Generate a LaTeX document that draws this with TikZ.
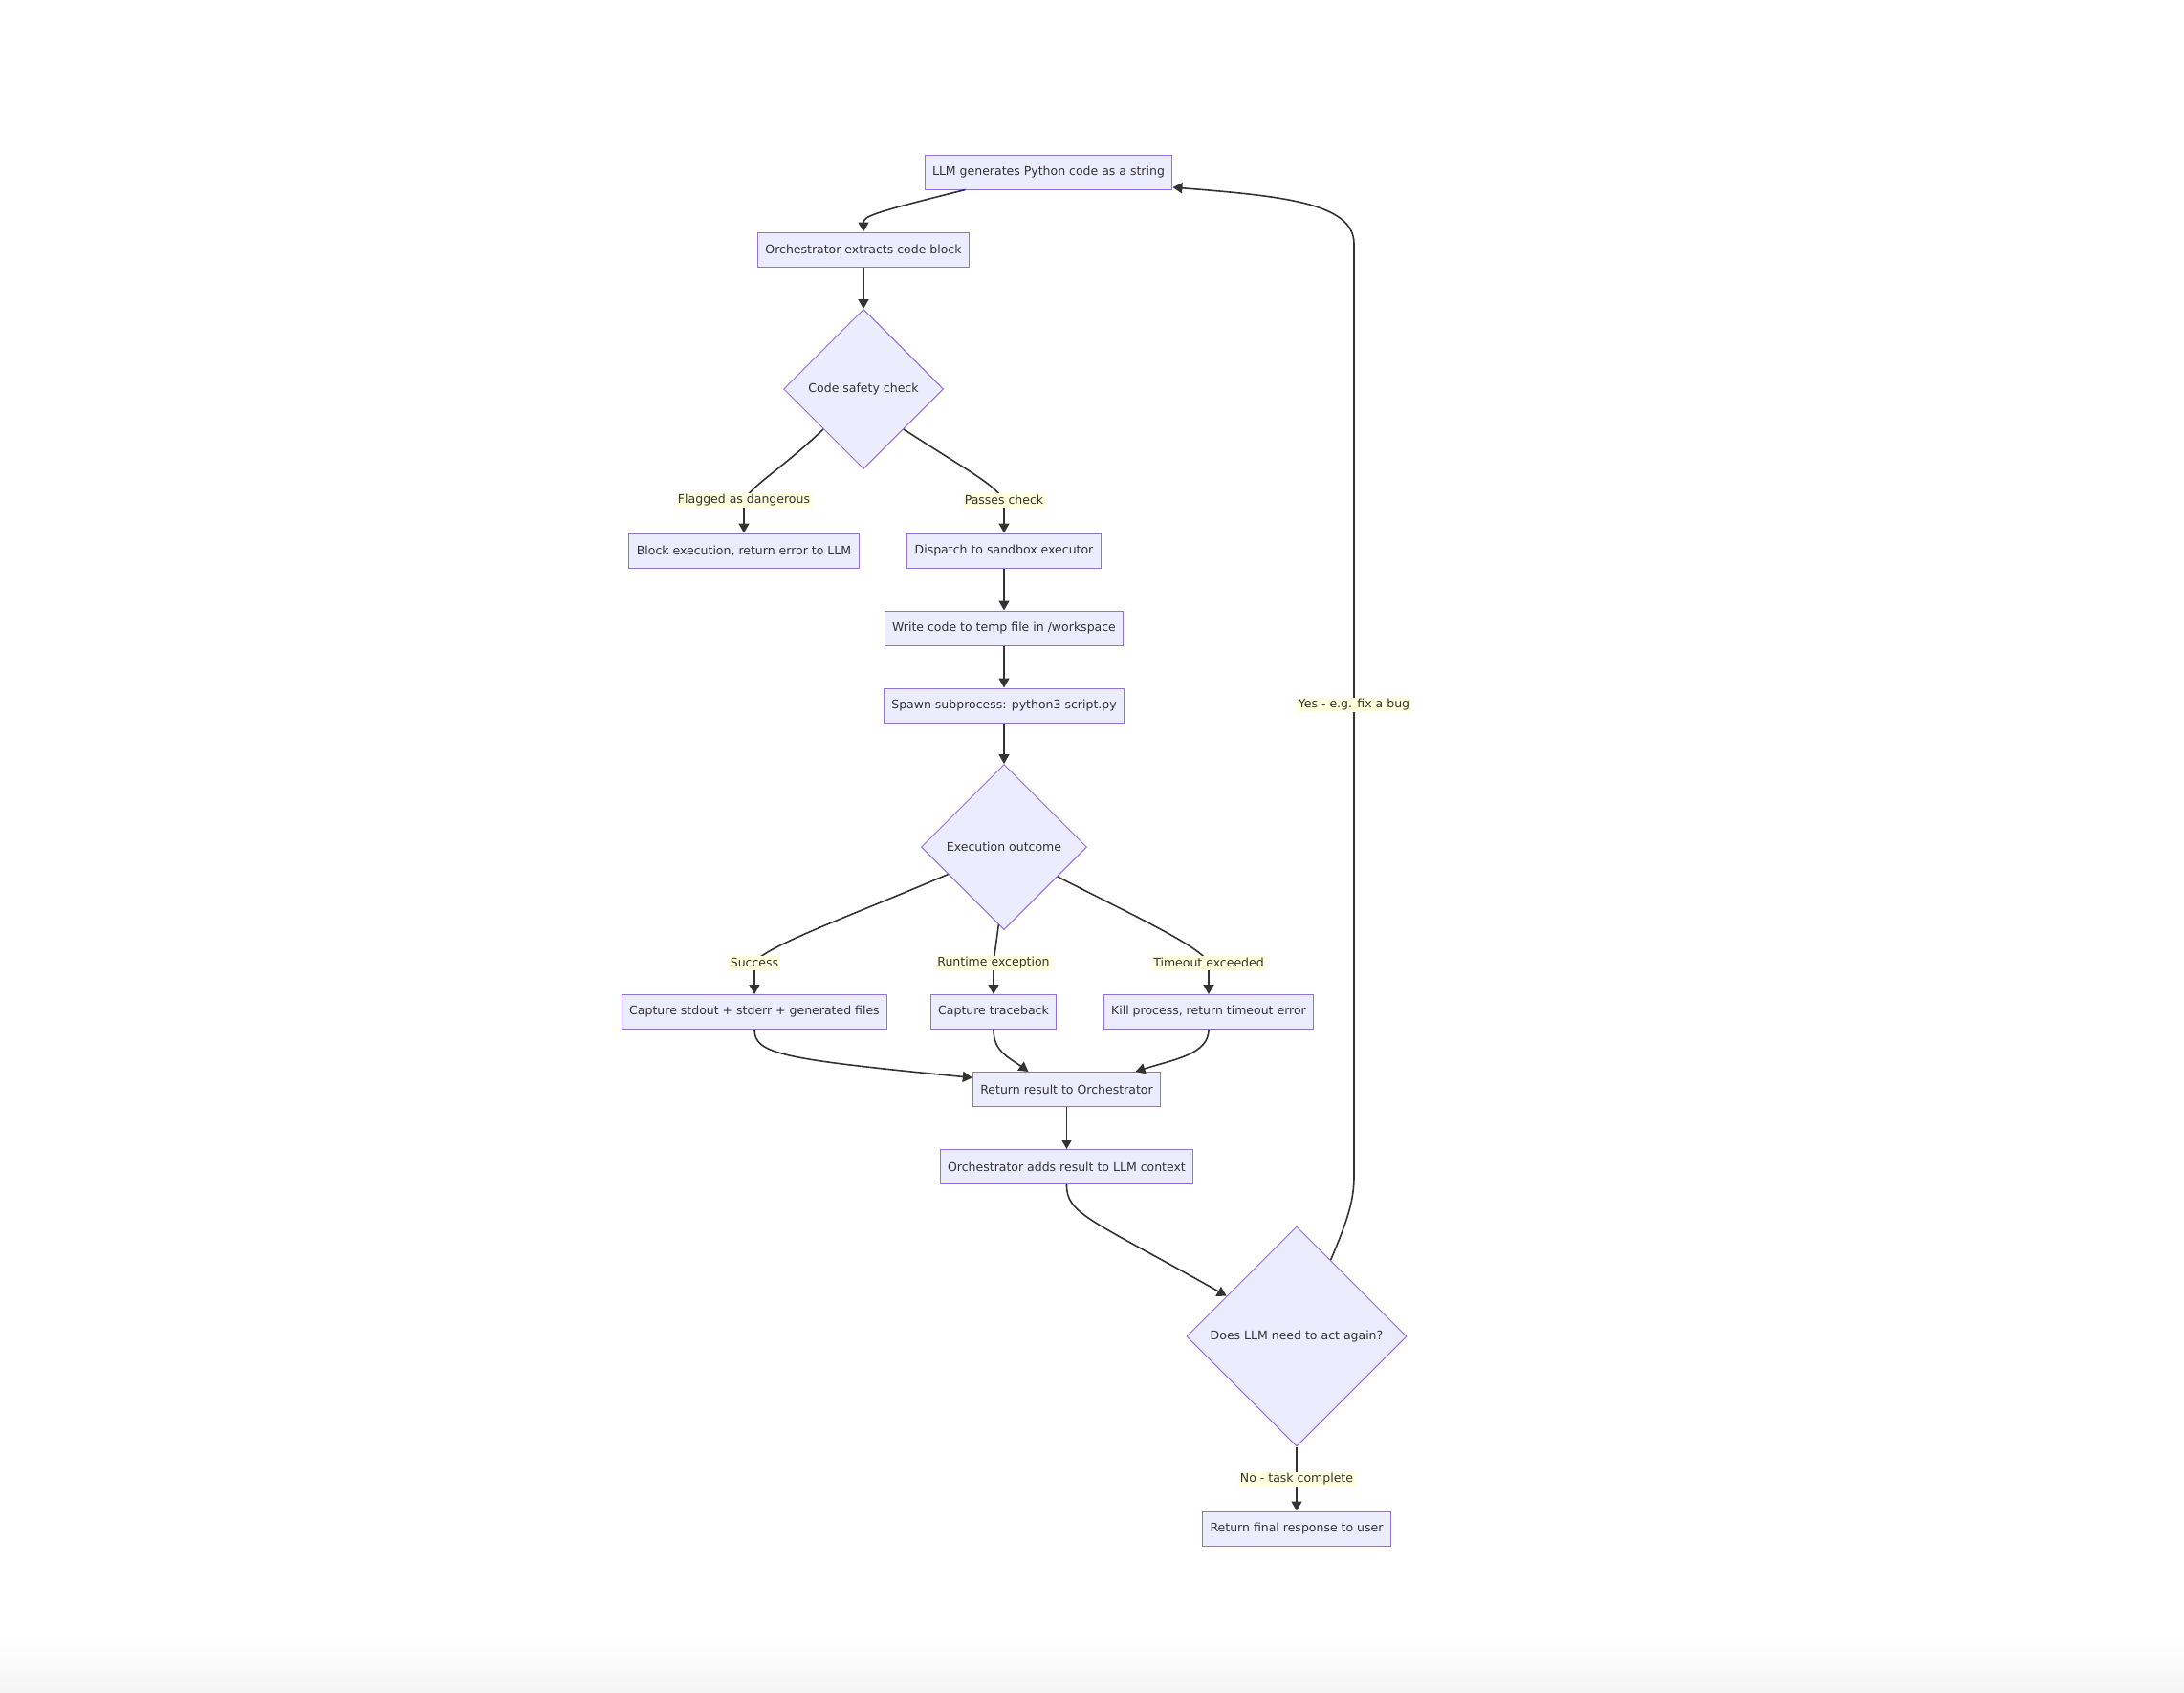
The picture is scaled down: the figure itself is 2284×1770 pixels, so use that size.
\documentclass[tikz,border=0pt]{standalone}
\usepackage{fontspec}
\setmainfont{DejaVu Sans}
\usepackage{tikz}
\usetikzlibrary{shapes.geometric,arrows.meta}
\definecolor{nodefill}{HTML}{ECECFF}
\definecolor{nodeline}{HTML}{9370DB}
\definecolor{edgeline}{HTML}{333333}
\definecolor{labelfill}{HTML}{FFFFDE}

\begin{document}
\begin{tikzpicture}[x=1pt,y=-1pt,
    box/.style={draw=nodeline,fill=nodefill,line width=1pt,minimum height=36pt,inner xsep=8pt,inner ysep=0pt,text=edgeline,font=\fontsize{12.5pt}{15pt}\selectfont},
    decision/.style={box,diamond,inner sep=0pt},
    elabel/.style={fill=labelfill,inner xsep=1.5pt,inner ysep=0pt,minimum height=15pt,text=edgeline,font=\fontsize{12.5pt}{15pt}\selectfont},
    flow/.style={draw=edgeline,line width=1.6pt,-{Triangle[length=10pt,width=11pt]}}]
        \useasboundingbox (0,0) rectangle (2284,1770);
        \shade[top color=white,bottom color=black!4] (0,1715) rectangle (2284,1770); % faint strip at the foot
        \node[box] (llm) at (1096.5,180) {LLM generates Python code as a string};
        \node[box] (extract) at (903,261) {Orchestrator extracts code block};
        \node[decision,minimum size=167pt] (safety) at (903,407) {Code safety check};
        \node[box] (block) at (778,576) {Block execution, return error to LLM};
        \node[box] (dispatch) at (1050,576) {Dispatch to sandbox executor};
        \node[box] (write) at (1050,657) {Write code to temp file in /workspace};
        \node[box] (spawn) at (1050,738) {Spawn subprocess: python3 script.py};
        \node[decision,minimum size=173pt] (outcome) at (1050,886) {Execution outcome};
        \node[box] (capture) at (789,1058.5) {Capture stdout + stderr + generated files};
        \node[box] (trace) at (1039,1058.5) {Capture traceback};
        \node[box] (kill) at (1264,1058.5) {Kill process, return timeout error};
        \node[box] (result) at (1115.5,1139.5) {Return result to Orchestrator};
        \node[box] (context) at (1115.5,1220.5) {Orchestrator adds result to LLM context};
        \node[decision,minimum size=230pt] (again) at (1356,1398) {Does LLM need to act again?};
        \node[box] (final) at (1356,1599) {Return final response to user};
        \draw[flow] ([xshift=-87pt]llm.south) .. controls (915,222) and (903,226) .. (extract.north);
        \draw[flow] (extract) -- (safety);
        \draw[flow] (safety.south west) .. controls (818,490) and (790,505) .. (778,523) node[elabel] {Flagged as dangerous} -- (block.north);
        \draw[flow] (safety.south east) .. controls (1008,490) and (1038,505) .. (1050,523) node[elabel] {Passes check} -- (dispatch.north);
        \draw[flow] (dispatch) -- (write);
        \draw[flow] (write) -- (spawn);
        \draw[flow] (spawn) -- (outcome);
        \draw[flow] (outcome.206) .. controls (890,958) and (800,990) .. (789,1007) node[elabel] {Success} -- (capture.north);
        \draw[flow] (outcome.266) -- (1039,1007) node[elabel] {Runtime exception} -- (trace.north);
        \draw[flow] (outcome.331) .. controls (1190,960) and (1255,990) .. (1264,1007) node[elabel] {Timeout exceeded} -- (kill.north);
        \draw[flow] (capture.south) .. controls (789,1103) and (820,1108) .. (result.173);
        \draw[flow] (trace.south) .. controls (1039,1100) and (1055,1106) .. ([xshift=-40pt]result.north);
        \draw[flow] (kill.south) .. controls (1264,1103) and (1228,1108) .. ([xshift=72pt]result.north);
        \draw[flow] (result) -- (context);
        \draw[flow] (context.south) .. controls (1115,1270) and (1140,1275) .. (again.150);
        \draw[flow] (again) -- node[elabel] {No - task complete} (final);
        \draw[flow] (again.66) .. controls (1410,1275) and (1416,1255) .. (1416,1230) -- (1416,737) node[elabel] {Yes - e.g. fix a bug} -- (1416,255) .. controls (1416,212) and (1340,205) .. (llm.353); % back to the top
    \end{tikzpicture}
\end{document}
